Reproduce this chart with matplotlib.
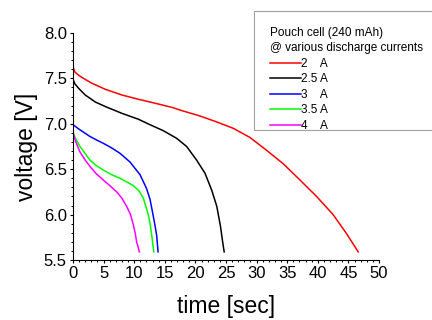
import matplotlib
matplotlib.use('Agg')
import matplotlib.pyplot as plt
from matplotlib.ticker import MultipleLocator
from matplotlib.patches import Rectangle

plt.rcParams['font.family'] = ['Liberation Sans', 'DejaVu Sans']

# discharge curves (time in s, voltage in V)
t_2a = [0, 0.3, 0.93, 1.47, 3.1, 5.28, 8.0, 10.7, 13.45, 16.2, 17.8, 20.75, 23.5, 26.2, 28.9,
        31.6, 34.4, 37.1, 39.8, 42.5, 44.7, 46.6]
v_2a = [7.63, 7.57, 7.535, 7.51, 7.446, 7.38, 7.317, 7.27, 7.226, 7.18, 7.145, 7.086, 7.02, 6.95, 6.85,
        6.71, 6.557, 6.38, 6.2, 6.0, 5.79, 5.59]

t_25a = [0, 0.3, 0.93, 2.0, 3.65, 5.28, 8.0, 10.7, 12.58, 14.76, 16.94, 18.57, 20.2, 21.57,
         22.66, 23.5, 24.1, 24.45, 24.7]
v_25a = [7.49, 7.44, 7.39, 7.317, 7.24, 7.19, 7.115, 7.05, 6.99, 6.924, 6.84, 6.75, 6.6, 6.455,
         6.27, 6.09, 5.87, 5.7, 5.59]

t_3a = [0, 1, 2.78, 3.9, 4.96, 6.3, 7.68, 9.3, 10.95, 12.0, 12.58, 13.1, 13.45, 13.67, 13.9]
v_3a = [6.99, 6.94, 6.86, 6.82, 6.785, 6.735, 6.675, 6.58, 6.44, 6.29, 6.17, 5.99, 5.86, 5.77, 5.59]

t_35a = [0, 0.4, 1.14, 2.0, 2.78, 3.8, 4.96, 6.3, 7.68, 9.85, 10.8, 11.5, 12.3, 12.6, 12.85, 13.2]
v_35a = [6.91, 6.84, 6.75, 6.67, 6.6, 6.54, 6.49, 6.44, 6.4, 6.32, 6.26, 6.18, 6.0, 5.9, 5.78, 5.59]

t_4a = [0, 0.4, 1.14, 2.0, 2.78, 3.8, 4.96, 6.0, 7.14, 8.0, 8.77, 9.4, 9.85, 10.15, 10.4, 10.85]
v_4a = [6.9, 6.81, 6.69, 6.6, 6.53, 6.45, 6.38, 6.32, 6.25, 6.18, 6.09, 6.0, 5.89, 5.8, 5.7, 5.59]

labels = ['2    A', '2.5 A', '3    A', '3.5 A', '4    A']
colors = ['#ff0000', '#000000', '#0000ff', '#00ff00', '#ff00ff']

fig = plt.figure(figsize=(4.32, 3.2), dpi=100)
ax = fig.add_axes([73 / 432, 60 / 320, 306 / 432, 227 / 320])

series = [(t_2a, v_2a), (t_25a, v_25a), (t_3a, v_3a), (t_35a, v_35a), (t_4a, v_4a)]
for (t, v), lab, c in zip(series, labels, colors):
    ax.plot(t, v, color=c, lw=1.1, label=lab)

ax.set_xlim(0, 50)
ax.set_ylim(5.5, 8.0)
ax.xaxis.set_major_locator(MultipleLocator(5))
ax.xaxis.set_minor_locator(MultipleLocator(1))
ax.yaxis.set_major_locator(MultipleLocator(0.5))
ax.yaxis.set_minor_locator(MultipleLocator(0.1))
ax.yaxis.set_major_formatter(lambda x, pos: f'{x:.1f}')

for s in ['top', 'right']:
    ax.spines[s].set_visible(False)
for s in ['left', 'bottom']:
    ax.spines[s].set_linewidth(0.8)
ax.tick_params(which='major', direction='out', length=2.4, width=0.8, labelsize=12, pad=2)
ax.tick_params(which='minor', direction='out', length=1.4, width=0.7)

ax.set_xlabel('time [sec]', fontsize=16.5, labelpad=10)
ax.set_ylabel('voltage [V]', fontsize=16.5, labelpad=4)

# legend box drawn separately so the padding can be uneven like the original
fig.patches.append(Rectangle((254 / 432, 190 / 320), 190 / 432, 119.3 / 320,
                             transform=fig.transFigure, fill=False,
                             edgecolor='#a0a0a0', lw=0.8))
leg = fig.legend(loc='upper left', bbox_to_anchor=(270 / 432, 1 - 27 / 320),
                 title='Pouch cell (240 mAh)\n@ various discharge currents',
                 alignment='left', fontsize=8.5, title_fontsize=8.5,
                 handlelength=2.6, handletextpad=0.05, labelspacing=0.3,
                 borderaxespad=0, borderpad=0, frameon=False)
leg.get_title().set_linespacing(1.36)

fig.savefig('out.png', dpi=100)
